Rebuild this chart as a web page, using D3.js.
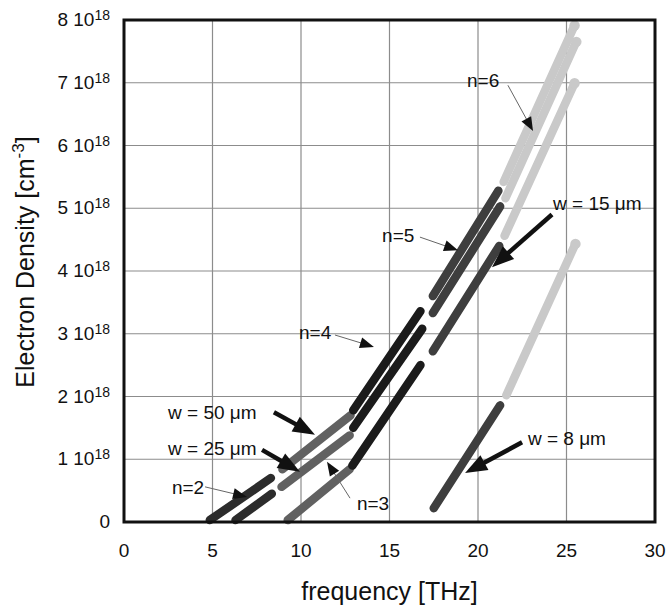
<!DOCTYPE html>
<html>
<head>
<meta charset="utf-8">
<script src="https://cdn.jsdelivr.net/npm/d3@7"></script>
<style>
  body { margin: 0; background: #fff; }
  svg { display: block; font-family: "Liberation Sans", Arial, Helvetica, sans-serif; }
</style>
</head>
<body>
<svg id="chart" width="666" height="614"></svg>
<script>
// axis ticks
var xTicks = [0, 5, 10, 15, 20, 25, 30];
var yTicks = [0, 1, 2, 3, 4, 5, 6, 7, 8];

// each curve = list of [mode n, start point, end point]  (x in THz, y in 1e18 cm^-3)
var w50 = [
  [2, [4.85, 0.03], [8.3, 0.70]],
  [3, [8.95, 0.84], [12.8, 1.70]],
  [4, [12.95, 1.78], [16.75, 3.36]],
  [5, [17.45, 3.60], [21.15, 5.28]],
  [6, [21.45, 5.42], [25.4, 7.88]]
];
var w25 = [
  [2, [6.3, 0.03], [8.35, 0.45]],
  [3, [8.9, 0.56], [12.75, 1.38]],
  [4, [12.95, 1.50], [16.85, 3.08]],
  [5, [17.45, 3.33], [21.25, 5.03]],
  [6, [21.55, 5.16], [25.5, 7.62]]
];
var w15 = [
  [3, [9.25, 0.03], [12.75, 0.84]],
  [4, [12.9, 0.90], [16.75, 2.50]],
  [5, [17.45, 2.72], [21.2, 4.40]],
  [6, [21.5, 4.56], [25.4, 6.96]]
];
var w8 = [
  [5, [17.5, 0.22], [21.25, 1.86]],
  [6, [21.6, 2.02], [25.45, 4.40]]
];
var curves = [w8, w15, w25, w50];

// annotations: text, text anchor point, arrow from, arrow to, thick?
var notes = [
  ["n=6", [19.38, 6.93], [21.69, 6.96], [23.11, 6.23], false],
  ["w = 15 \u03bcm", [24.24, 4.97], [24.18, 4.90], [20.79, 4.06], true],
  ["n=5", [14.58, 4.46], [16.72, 4.54], [18.87, 4.33], false],
  ["n=4", [9.89, 2.92], [11.92, 2.98], [14.12, 2.79], false],
  ["w = 50 \u03bcm", [2.49, 1.64], [8.47, 1.75], [10.79, 1.39], true],
  ["w = 25 \u03bcm", [2.49, 1.07], [7.80, 1.15], [9.94, 0.80], true],
  ["n=2", [2.71, 0.45], [4.58, 0.56], [6.95, 0.40], false],
  ["n=3", [13.16, 0.19], [12.77, 0.38], [11.47, 0.96], false],
  ["w = 8 \u03bcm", [22.82, 1.23], [22.49, 1.27], [19.27, 0.78], true]
];

var modecolor = function(n) {
  return {2: "#2c2c2c", 3: "#616161", 4: "#1b1b1b", 5: "#3e3e3e", 6: "#c9c9c9"}[n];
};

var svg = d3.select("#chart");
var pLeft = 124, pRight = 655, pTop = 20, pBottom = 522;

var x = d3.scaleLinear().domain([0, 30]).range([pLeft, pRight]);
var y = d3.scaleLinear().domain([0, 8]).range([pBottom, pTop]);

// grid
svg.append("g").selectAll("line")
  .data(xTicks.slice(1, -1)).enter().append("line")
  .attr("x1", function(d) { return x(d); }).attr("x2", function(d) { return x(d); })
  .attr("y1", pTop).attr("y2", pBottom)
  .attr("stroke", "#8c8c8c").attr("stroke-width", 1.2);
svg.append("g").selectAll("line")
  .data(yTicks.slice(1, -1)).enter().append("line")
  .attr("y1", function(d) { return y(d); }).attr("y2", function(d) { return y(d); })
  .attr("x1", pLeft).attr("x2", pRight)
  .attr("stroke", "#8c8c8c").attr("stroke-width", 1.2);

// curves
var g = svg.append("g");
curves.forEach(function(c) {
  c.forEach(function(s) {
    g.append("line")
      .attr("x1", x(s[1][0])).attr("y1", y(s[1][1]))
      .attr("x2", x(s[2][0])).attr("y2", y(s[2][1]))
      .attr("stroke", modecolor(s[0]))
      .attr("stroke-width", 8.5)
      .attr("stroke-linecap", "round");
    if (s[0] == 6) {
      g.append("circle")
        .attr("cx", x(s[2][0]) + 1).attr("cy", y(s[2][1]) - 2)
        .attr("r", 5.2).attr("fill", modecolor(6));
    }
  });
});

// frame
svg.append("rect")
  .attr("x", pLeft).attr("y", pTop)
  .attr("width", pRight - pLeft).attr("height", pBottom - pTop)
  .attr("fill", "none").attr("stroke", "#111").attr("stroke-width", 3);

// tick labels
svg.append("g").selectAll("text")
  .data(xTicks).enter().append("text")
  .attr("x", function(d) { return x(d); })
  .attr("y", 557)
  .attr("text-anchor", "middle")
  .attr("font-size", 19)
  .attr("fill", "#111")
  .text(function(d) { return d; });

var yl = svg.append("g").selectAll("text")
  .data(yTicks).enter().append("text")
  .attr("x", 110)
  .attr("y", function(d) { return y(d) + 6; })
  .attr("text-anchor", "end")
  .attr("font-size", 19)
  .attr("fill", "#111");
yl.each(function(d) {
  var t = d3.select(this);
  if (d == 0) { t.text("0"); return; }
  t.append("tspan").text(d + " 10");
  t.append("tspan").attr("dy", -6).attr("font-size", 14).text("18");
});

// axis titles
svg.append("text")
  .attr("x", (pLeft + pRight) / 2).attr("y", 600)
  .attr("text-anchor", "middle")
  .attr("font-size", 25)
  .attr("fill", "#111")
  .text("frequency [THz]");

var yt = svg.append("text")
  .attr("transform", "translate(34," + 262 + ") rotate(-90)")
  .attr("text-anchor", "middle")
  .attr("font-size", 25)
  .attr("fill", "#111");
yt.append("tspan").text("Electron Density [cm");
yt.append("tspan").attr("dy", -10).attr("font-size", 17).text("-3");
yt.append("tspan").attr("dy", 10).text("]");

// annotations
var ag = svg.append("g");
notes.forEach(function(a) {
  var x1 = x(a[2][0]), y1 = y(a[2][1]), x2 = x(a[3][0]), y2 = y(a[3][1]);
  var dx = x2 - x1, dy = y2 - y1, len = Math.sqrt(dx*dx + dy*dy);
  var ux = dx / len, uy = dy / len;
  var hl = a[4] ? 22 : 14, hw = a[4] ? 8.5 : 5.5;
  var bx = x2 - ux * hl, by = y2 - uy * hl;
  ag.append("line")
    .attr("x1", x1).attr("y1", y1)
    .attr("x2", bx + ux * 2).attr("y2", by + uy * 2)
    .attr("stroke", a[4] ? "#111" : "#666")
    .attr("stroke-width", a[4] ? 4.5 : 1);
  ag.append("path")
    .attr("d", "M" + x2 + "," + y2 +
      "L" + (bx - uy * hw) + "," + (by + ux * hw) +
      "L" + (bx + uy * hw) + "," + (by - ux * hw) + "Z")
    .attr("fill", "#111");
  ag.append("text")
    .attr("x", x(a[1][0])).attr("y", y(a[1][1]))
    .attr("font-size", 19)
    .attr("fill", "#111")
    .text(a[0]);
});
</script>
</body>
</html>
